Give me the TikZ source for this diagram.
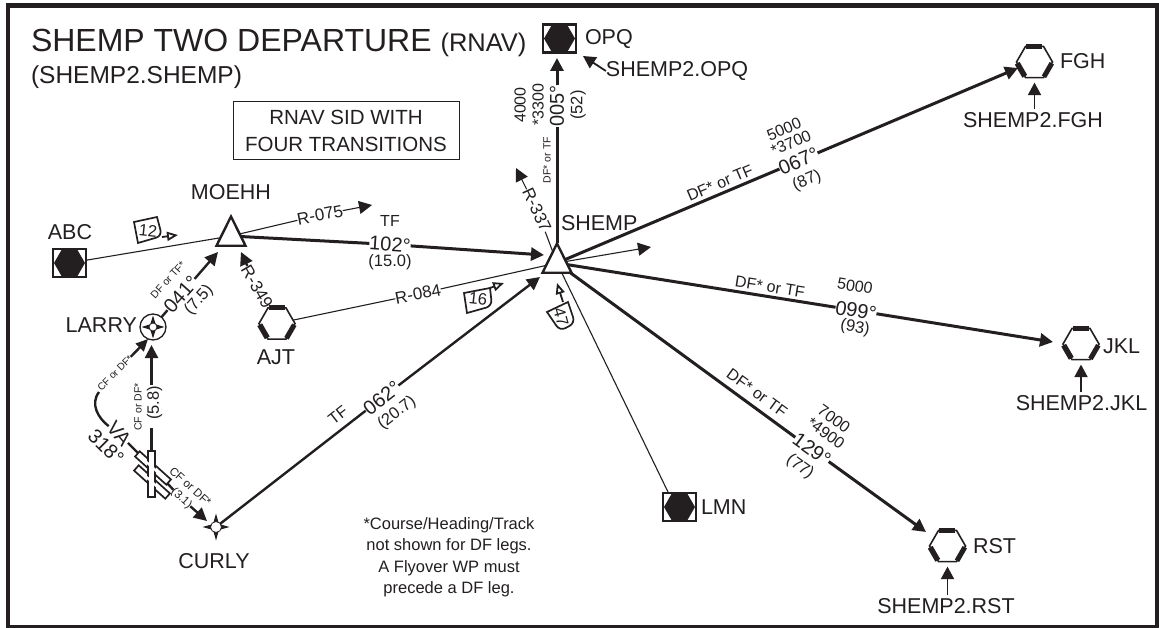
\documentclass[tikz,border=0pt]{standalone}
\usepackage{fontspec}
\setmainfont{Liberation Sans}
\usetikzlibrary{shapes.geometric,arrows.meta,calc,backgrounds}
\definecolor{ink}{HTML}{231F20}
\newcommand{\hexbands}[1]{%
  \draw[ink,line width=5.5pt,line cap=butt] ($(#1.corner 3)!.08!(#1.corner 4)$) -- ($(#1.corner 4)!.08!(#1.corner 3)$);
  \draw[ink,line width=5pt,line cap=butt] ($(#1.corner 1)!.08!(#1.corner 2)$) -- ($(#1.corner 2)!.05!(#1.corner 1)$);
  \draw[ink,line width=5pt,line cap=butt] ($(#1.corner 6)!.08!(#1.corner 5)$) -- ($(#1.corner 5)!.05!(#1.corner 6)$);}
\tikzset{
  x=1pt,y=-1pt,
  every node/.style={text=ink,inner sep=0pt,outer sep=0pt},
  tip/.style={-{Triangle[length=13pt,width=13pt]}},
  smalltip/.style={-{Triangle[length=12.5pt,width=13pt]}},
  opentip/.style={-{Triangle[open,length=11pt,width=9pt,fill=white]}},
  leg/.style={draw=ink,line width=3pt},
  midleg/.style={draw=ink,line width=2.4pt},
  thinleg/.style={draw=ink,line width=1.1pt},
  pointer/.style={draw=ink,line width=1.8pt},
  tri/.style={regular polygon,regular polygon sides=3,minimum size=39pt,xscale=.86,transform shape,draw=ink,fill=white,line width=2.4pt},
  hexopen/.style={regular polygon,regular polygon sides=6,minimum size=36pt,draw=ink,fill=white,line width=1.6pt},
  hexfill/.style={regular polygon,regular polygon sides=6,minimum size=31pt,fill=ink},
  boxed/.style={draw=ink,fill=white,line width=2.2pt,minimum width=33pt,minimum height=28pt},
  rway/.style={draw=ink,fill=white,line width=1.7pt,minimum width=42pt,minimum height=7pt},
  rwayc/.style={draw=white,line width=2.4pt},
  fix/.style={font=\fontsize{21.5}{21.5}\selectfont},
  crs/.style={font=\fontsize{20}{20}\selectfont},
  dist/.style={font=\fontsize{16.5}{16.5}\selectfont},
  alt/.style={font=\fontsize{16}{16}\selectfont},
  leglab/.style={font=\fontsize{16}{16}\selectfont},
  tiny/.style={font=\fontsize{10.5}{10.5}\selectfont},
  tinyb/.style={font=\fontsize{11.5}{11.5}\selectfont},
  radial/.style={font=\fontsize{17}{17}\selectfont},
  mins/.style={font=\fontsize{16.5}{16.5}\selectfont},
  minbox/.style={draw=ink,line width=1.7pt,fill=white},
}
\begin{document}
\begin{tikzpicture}
\useasboundingbox (0,0) rectangle (1159,628);
% frame
\draw[ink,line width=4.5pt] (8,5.5) rectangle (1157.5,627);
% title
\node[anchor=base west] (title) at (31,52) {\fontsize{32}{32}\selectfont SHEMP TWO DEPARTURE \fontsize{25.5}{25.5}\selectfont (RNAV)};
\node[anchor=base west,font=\fontsize{24.5}{24.5}\selectfont] (sub) at (31,84) {(SHEMP2.SHEMP)};
\node[draw=ink,line width=1pt,minimum width=226pt,minimum height=58pt,align=center,font=\fontsize{20.5}{27}\selectfont] (box) at (346,131) {RNAV SID WITH\\FOUR TRANSITIONS};
% waypoint symbols
\node[tri] (SHEMP) at (557,263) {};
\node[tri] (MOEHH) at (231,236) {};
\node[boxed] (ABC) at (69.5,263) {};
\node[hexfill] (ABCh) at (69.5,263) {};
\node[boxed] (OPQ) at (559.5,38.5) {};
\node[hexfill] (OPQh) at (559.5,38.5) {};
\node[boxed] (LMN) at (679.5,507) {};
\node[hexfill] (LMNh) at (679.5,507) {};
\node[hexopen] (AJT) at (277,323.5) {};
\node[hexopen] (FGH) at (1034.5,62) {};
\node[hexopen] (JKL) at (1081,344) {};
\node[hexopen] (RST) at (947.5,546) {};
\hexbands{AJT}\hexbands{FGH}\hexbands{JKL}\hexbands{RST}
\node[circle,draw=ink,fill=white,line width=1.3pt,minimum size=26pt] (LARRY) at (153,327) {};
\node[star,star points=4,star point ratio=3,fill=ink,minimum size=23pt] (LARRYs) at (153,327) {};
\node[circle,draw=ink,fill=white,line width=.8pt,minimum size=8pt] (LARRYc) at (153,327) {};
\node[star,star points=4,star point ratio=3.2,fill=ink,minimum size=27pt] (CURLYs) at (216,527) {};
\node[circle,draw=ink,fill=white,line width=.8pt,minimum size=11pt] (CURLY) at (216,527) {};
% names
\node[fix] (nMOEHH) at (231,192) {MOEHH};
\node[fix] (nABC) at (70,232) {ABC};
\node[fix,anchor=east] (nLARRY) at (137,325) {LARRY};
\node[fix] (nAJT) at (276,357) {AJT};
\node[fix,anchor=west] (nSHEMP) at (561,223) {SHEMP};
\node[fix] (nCURLY) at (214,561) {CURLY};
\node[fix,anchor=west] (nOPQ) at (585,39) {OPQ};
\node[fix,anchor=west] (nLMN) at (701,507) {LMN};
\node[fix,anchor=west] (nFGH) at (1060,61) {FGH};
\node[fix,anchor=west] (nJKL) at (1103,346) {JKL};
\node[fix,anchor=west] (nRST) at (973,546) {RST};
\node[fix] (tOPQ) at (677,71) {SHEMP2.OPQ};
\node[fix] (tFGH) at (1033,120) {SHEMP2.FGH};
\node[fix] (tJKL) at (1081.5,403) {SHEMP2.JKL};
\node[fix] (tRST) at (946,606) {SHEMP2.RST};
% free ends
\coordinate (iOPQ) at (557,58);
\coordinate (pOPQ) at (583,56);
\coordinate (iFGH) at (1018,68);
\coordinate (iJKL) at (1053,342);
\coordinate (iRST) at (926,532);
\coordinate (iSHa) at (544,255);
\coordinate (iSHb) at (540,277);
\coordinate (iMO) at (218,252);
\coordinate (iMOb) at (241,252);
\coordinate (iLA) at (151.5,345);
\coordinate (iLAb) at (148,339);
\coordinate (iCU) at (207,521);
\coordinate (a075) at (372,205);
\coordinate (a084) at (651,247);
\coordinate (a337) at (516,168);
\coordinate (g1) at (151.5,428);
\coordinate (g2) at (151.5,385);
\coordinate (cv) at (99,392);
\coordinate (lmnEnd) at (668,492);
% leg labels (these open the gaps in the lines)
\node[crs,rotate=90] (c005) at (557,106) {005°};
\node[alt,rotate=90] (a005b) at (538,105) {*3300};
\node[alt,rotate=90] (a005a) at (520,105) {4000};
\node[dist,rotate=90] (d005) at (578,105) {(52)};
\node[tiny,rotate=90] (l005) at (547,160) {DF* or TF};
\node[crs,rotate=23] (c067) at (798.5,161) {067°};
\node[alt,rotate=23] (a067b) at (791,143) {*3700};
\node[alt,rotate=23] (a067a) at (784,129) {5000};
\node[dist,rotate=23] (d067) at (807,181) {(87)};
\node[leglab,rotate=23] (l067) at (720,183) {DF* or TF};
\node[crs,rotate=-9] (c099) at (856,310.5) {099°};
\node[alt,rotate=-9] (a099) at (855,286) {5000};
\node[dist,rotate=-9] (d099) at (855,328) {(93)};
\node[leglab,rotate=-9] (l099) at (770,287) {DF* or TF};
\node[crs,rotate=-36] (c129) at (812,449.5) {129°};
\node[alt,rotate=-36] (a129b) at (826,433) {*4900};
\node[alt,rotate=-36] (a129a) at (834,419) {7000};
\node[dist,rotate=-36] (d129) at (800,467) {(77)};
\node[leglab,rotate=-36] (l129) at (757,393) {DF* or TF};
\node[crs,rotate=-4] (c102) at (390,244.5) {102°};
\node[leglab] (l102) at (390,221) {TF};
\node[dist] (d102) at (390,262) {(15.0)};
\node[crs,rotate=38] (c062) at (382,398) {062°};
\node[leglab,rotate=38] (l062) at (338,415) {TF};
\node[dist,rotate=38] (d062) at (397,413) {(20.7)};
\node[crs,rotate=48] (c041) at (181,294.5) {041°};
\node[tiny,rotate=48] (l041) at (168,280) {DF or TF*};
\node[dist,rotate=48] (d041) at (199,300) {(7.5)};
\node[dist,rotate=90] (d058) at (154.5,403) {(5.8)};
\node[tiny,rotate=90] (l058) at (138,407) {CF or DF*};
\node[tinyb,rotate=-42] (l031) at (190.5,486.5) {CF or DF*};
\node[tinyb,rotate=-42] (d031) at (181.5,498.5) {(3.1)};
\node[crs,rotate=-50] (VA) at (119,434) {VA};
\node[crs,rotate=-45] (c318) at (106,447) {318°};
\node[font=\fontsize{10}{10}\selectfont,rotate=45] (lVA) at (115,373) {CF or DF*};
% radials
\node[radial,rotate=11] (R075) at (320,215) {R-075};
\node[radial,rotate=11] (R084) at (418,294) {R-084};
\node[radial,rotate=-60] (R349) at (257,287) {R-349};
\node[radial,rotate=-65] (R337) at (537,210) {R-337};
% runways
\node[rway,rotate=-42] (rwB) at (152,482) {};
\node[rway,rotate=-42] (rwA) at (153,468) {};
\node[rway,rotate=90,minimum width=46pt] (rwV) at (151.5,474) {};
\draw[rwayc,shorten <=1.5pt,shorten >=1.5pt] (rwB.west) -- (rwB.east);
\draw[rwayc,shorten <=1.5pt,shorten >=1.5pt] (rwA.west) -- (rwA.east);
\draw[rwayc,shorten <=1.5pt,shorten >=1.5pt] (rwV.west) -- (rwV.east);
% connectors behind the symbols
\begin{scope}[on background layer]
\fill[white] (0,0) rectangle (1159,628);
\path[thinleg] (ABC) -- (MOEHH);
\path[thinleg] (MOEHH) -- (R075);
\path[thinleg,tip] (R075) -- (a075);
\path[thinleg] (AJT) -- (R084);
\path[thinleg] (R084) -- (SHEMP);
\path[thinleg,tip] (SHEMP) -- (a084);
\path[thinleg] (lmnEnd) -- (SHEMP);
\path[thinleg] (SHEMP) -- (R337);
\path[thinleg,tip] (R337) -- (a337);
\end{scope}
% legs
\path[leg] (SHEMP) -- (c005);
\path[leg,tip] (c005) -- (iOPQ);
\path[pointer,smalltip] (tOPQ.west) -- (pOPQ);
\path[leg] (SHEMP) -- (c067);
\path[leg,tip] (c067) -- (iFGH);
\path[pointer,smalltip,shorten <=3pt,shorten >=5pt] (FGH |- tFGH.north) -- (FGH);
\path[leg] (SHEMP) -- (c099);
\path[leg,tip] (c099) -- (iJKL);
\path[pointer,smalltip,shorten <=3pt,shorten >=5pt] (JKL |- tJKL.north) -- (JKL);
\path[leg] (SHEMP) -- (c129);
\path[leg,tip] (c129) -- (iRST);
\path[pointer,smalltip,shorten <=3pt,shorten >=5pt] (RST |- tRST.north) -- (RST);
\path[leg] (MOEHH) -- (c102);
\path[leg,tip] (c102) -- (iSHa);
\path[midleg] (CURLY) -- (c062);
\path[midleg,tip] (c062) -- (iSHb);
\path[midleg] (LARRY) -- (c041);
\path[midleg,tip] (c041) -- (iMO);
\path[midleg,tip] (R349) -- (iMOb);
\path[midleg] (R349) -- (AJT);
\path[midleg] (rwV.east) -- (g1);
\path[midleg,tip] (g2) -- (iLA);
\path[midleg] (VA) -- (rwA);
\path[midleg] (rwA) -- (d031);
\path[midleg,tip] (d031) -- (iCU);
\path[midleg] (VA) .. controls (98,418) and (90,404) .. (cv);
\path[midleg,-{Triangle[length=12pt,width=11pt]}] (lVA) -- (iLAb);
% minimum crossing altitude flags
\path[minbox] (134,222) -- (157,217) [rounded corners=6pt] -- (162,236) [sharp corners] -- (138,243) -- cycle;
\node[mins,rotate=-6] (m12) at (148,231) {12};
\path[pointer,opentip] (162,237) -- (178,235);
\path[minbox] (464,293) -- (490,288) [rounded corners=6pt] -- (492,306) [sharp corners] -- (467,313) -- cycle;
\node[mins,rotate=-6] (m16) at (478,299) {16};
\path[pointer,opentip] (490,288) -- (504,283);
\path[minbox] (547,312) -- (568,302) [rounded corners=6pt] -- (575,323) -- (560,331) [sharp corners] -- cycle;
\node[mins,rotate=-75] (m47) at (561,317) {47};
\path[pointer,opentip] (563,302) -- (557,283);
% note
\node[align=center,font=\fontsize{16.5}{21.5}\selectfont] (note) at (449,557) {*Course/Heading/Track\\not shown for DF legs.\\A Flyover WP must\\precede a DF leg.};
\end{tikzpicture}
\end{document}
